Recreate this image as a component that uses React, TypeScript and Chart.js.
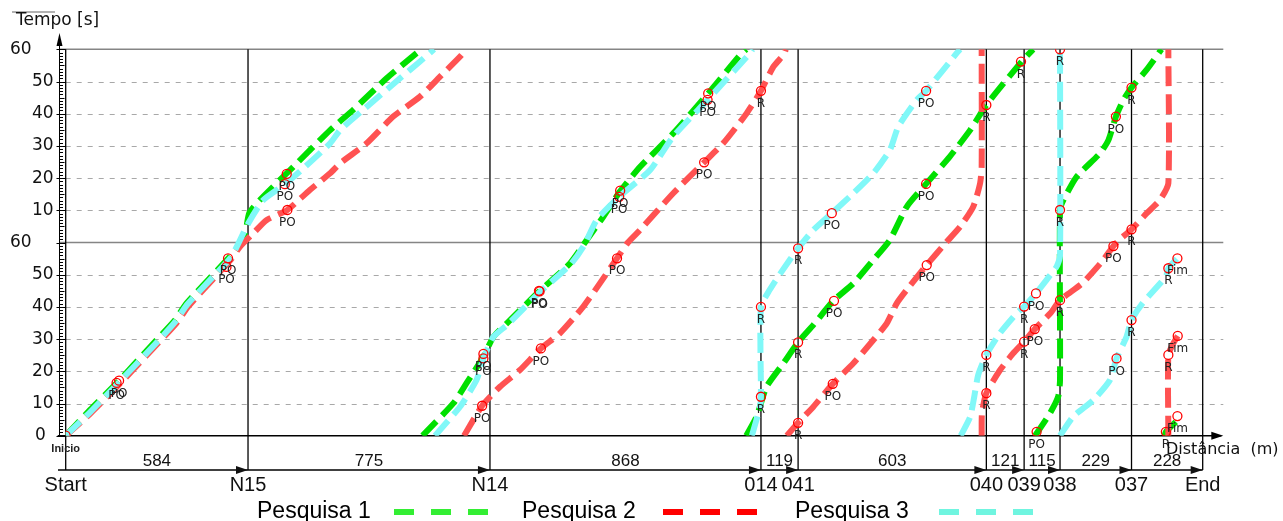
import React, { useEffect, useRef } from 'react';
import { Chart, registerables } from 'chart.js';

Chart.register(...registerables);

// ---------- data ----------
const stationNames = ['Start', 'N15', 'N14', '014', '041', '040', '039', '038', '037', 'End'];
const segmentLengths = [584, 775, 868, 119, 603, 121, 115, 229, 228];
const yTickValues = [0, 10, 20, 30, 40, 50, 60, 70, 80, 90, 100, 110, 120];
const yTickLabels = ['0', '10', '20', '30', '40', '50', '60', '10', '20', '30', '40', '50', '60'];
const seriesNames = ['Pesquisa 1', 'Pesquisa 2', 'Pesquisa 3'];

// [distance (m), time (s, two stacked minutes 0..120)] per wrapped segment
const pesquisa1Segments: number[][][] = [
  [[0, 0], [78, 8], [168, 16.8], [291, 29.7], [350, 35.9], [388, 41.2], [526, 55.6], [552, 58.5], [575, 62.9], [588, 69.2], [622, 73.2], [729, 83.5], [847, 94.9], [921, 101.2], [1028, 111], [1124, 118.8], [1141, 120]],
  [[1143, 0], [1242, 10.1], [1284, 16.3], [1338, 24.5], [1370, 30.7], [1413, 34.9], [1519, 45], [1615, 53.5], [1669, 60.8], [1722, 68], [1775, 75.8], [1840, 83.5], [1946, 93.9], [2058, 106.3], [2160, 118.2], [2180, 120]],
  [[2180, 0], [2213, 5.9], [2245, 15.2], [2299, 22.5], [2346, 29], [2395, 34.4], [2459, 41.9], [2523, 47.3], [2587, 54.6], [2640, 60.8], [2694, 71.1], [2756, 78.2], [2832, 86.7], [2897, 94.9], [2949, 102.7], [3062, 116.2], [3099, 120]],
  [[3105, 0], [3153, 7], [3179, 12.1], [3185, 17.3], [3185, 70], [3196, 73.2], [3238, 80.4], [3313, 87.7], [3340, 91.8], [3364, 99.1], [3388, 104.3], [3414, 108.1], [3462, 113.6], [3510, 120]],
  [[3520, 0], [3524, 1.2], [3556, 4.3]],
];
const pesquisa2Segments: number[][][] = [
  [[0, 0], [82, 7.2], [172, 16], [297, 28.9], [355, 35], [393, 40.2], [530, 54.8], [558, 58.7], [601, 62.9], [644, 67], [710, 70.1], [782, 76.3], [847, 81.5], [879, 84.6], [964, 90.8], [1049, 99.1], [1135, 105.3], [1199, 111.5], [1268, 118.2], [1279, 120]],
  [[1276, 0], [1334, 9.3], [1391, 15.2], [1455, 20.4], [1522, 27.1], [1583, 31.8], [1658, 40.1], [1711, 47.3], [1766, 55.1], [1801, 60], [1840, 63.9], [1946, 75.3], [2045, 84.9], [2106, 90.8], [2181, 100.1], [2227, 107.1], [2267, 114.6], [2299, 118.2], [2307, 120]],
  [[2310, 0], [2346, 4], [2395, 9], [2457, 16.1], [2523, 22.5], [2587, 29.7], [2630, 34.9], [2662, 41.1], [2694, 45.3], [2758, 53], [2820, 60], [2865, 64.9], [2907, 71.1], [2929, 78.4], [2934, 83.5], [2934, 120]],
  [[2934, 0], [2935, 7], [2949, 13.2], [2993, 20.4], [3035, 25.6], [3070, 29.2], [3104, 33.1], [3154, 38], [3185, 42.1], [3257, 47.4], [3318, 53.9], [3356, 58.9], [3375, 60.8], [3414, 64.1], [3463, 69.1], [3505, 73.2], [3532, 78.4], [3532, 120]],
  [[3532, 0], [3532, 25.1], [3548, 28.7], [3562, 31]],
];
const pesquisa3Segments: number[][][] = [
  [[0, 0], [80, 7.5], [170, 16.5], [295, 29.3], [352, 35.5], [390, 40.8], [528, 55.2], [548, 58.7], [585, 66], [633, 73.2], [702, 78.1], [761, 83], [847, 90.8], [879, 94.9], [953, 101.2], [1071, 111], [1135, 116.2], [1180, 120]],
  [[1183, 0], [1263, 9], [1316, 17.3], [1338, 24], [1370, 30.7], [1415, 34.5], [1521, 44.8], [1618, 53.3], [1660, 59], [1701, 67], [1773, 74.2], [1872, 82.5], [1946, 92.9], [2056, 104.3], [2192, 118.8], [2200, 120]],
  [[2198, 0], [2224, 9], [2227, 12.1], [2227, 40], [2255, 45.3], [2297, 51.5], [2346, 58.2], [2395, 63.9], [2454, 69.1], [2523, 75.3], [2587, 81.5], [2640, 88.7], [2667, 96], [2726, 104.3], [2756, 107.1], [2854, 118.8], [2865, 120]],
  [[2867, 0], [2897, 5.8], [2910, 12], [2923, 18.9], [2949, 25.1], [2993, 31.9], [3046, 38], [3070, 40.1], [3108, 44.2], [3142, 48.4], [3174, 52.5], [3185, 55.8], [3185, 120]],
  [[3185, 0], [3227, 5.9], [3292, 11.1], [3345, 17.3], [3366, 24], [3398, 30.7], [3414, 35.9], [3449, 41.1], [3524, 49.4], [3532, 52], [3561, 55.1]],
];

const markerPoints: [number, number, string][] = [
  [0, 0, 'Inicio'],
  [171, 17.1, 'PO'], [163, 16.4, 'PO'],
  [520, 55.1, 'PO'], [515, 52.4, 'PO'],
  [708, 81.3, 'PO'], [702, 78.1, 'PO'], [710, 70.1, 'PO'],
  [1338, 25.4, 'PO'], [1338, 24, 'PO'], [1334, 9.3, 'PO'],
  [1516, 45, 'PO'], [1518, 44.8, 'PO'], [1522, 27.1, 'PO'], [1766, 55.1, 'PO'],
  [1776, 76.1, 'PO'], [1773, 74.2, 'PO'],
  [2058, 106.3, 'PO'], [2056, 104.3, 'PO'], [2045, 84.9, 'PO'],
  [2227, 107.1, 'R'],
  [2454, 69.1, 'PO'], [2756, 107.1, 'PO'], [2756, 78.2, 'PO'],
  [2346, 58.2, 'R'], [2227, 40, 'R'], [2461, 41.9, 'PO'], [2346, 29, 'R'], [2457, 16.1, 'PO'], [2346, 4, 'R'], [2758, 53, 'PO'], [2227, 12.1, 'R'],
  [2949, 102.7, 'R'], [3060, 116.2, 'R'], [3185, 120, 'R'], [3185, 70.1, 'R'], [3364, 99.1, 'PO'], [3414, 108.1, 'R'], [3414, 64.1, 'R'], [3356, 58.9, 'PO'],
  [2949, 25.1, 'R'], [2949, 13.2, 'R'], [3070, 40.1, 'R'], [3108, 44.2, 'PO'], [3070, 29.2, 'R'], [3104, 33.1, 'PO'], [3185, 42.1, 'R'], [3110, 1.2, 'PO'],
  [3366, 24, 'PO'], [3414, 35.9, 'R'], [3532, 52, 'R'], [3561, 55.1, 'Fim'],
  [3532, 25.1, 'R'], [3562, 31, 'Fim'],
  [3524, 1.2, 'R'], [3561, 6.1, 'Fim'],
];

const X_MAX = 3708;
const lineColors = ['#00e000', '#ff5252', '#80f8f8'];
const legendColors = ['#33ee33', '#ff0000', '#70f5e0'];

function toData(segs: number[][][]) {
  const out: { x: number; y: number | null }[] = [];
  segs.forEach((s, i) => {
    if (i > 0) out.push({ x: s[0][0], y: null });
    s.forEach((p) => out.push({ x: p[0], y: p[1] }));
  });
  return out;
}

function stationPositions() {
  const pos = [0];
  segmentLengths.forEach((l) => pos.push(pos[pos.length - 1] + l));
  return pos;
}

const BAND_Y = 470;

const decorPlugin = {
  id: 'decor',
  beforeDatasetsDraw(chart: any) {
    const ctx = chart.ctx as CanvasRenderingContext2D;
    const xs = chart.scales.x;
    const ys = chart.scales.y;
    const { left, right, top } = chart.chartArea;
    ctx.save();
    // dashed grid
    ctx.strokeStyle = '#a8a8a8';
    ctx.lineWidth = 1;
    ctx.setLineDash([5, 6]);
    yTickValues.forEach((v) => {
      if (v % 60 === 0) return;
      const y = Math.round(ys.getPixelForValue(v)) + 0.5;
      ctx.beginPath();
      ctx.moveTo(left, y);
      ctx.lineTo(right, y);
      ctx.stroke();
    });
    ctx.setLineDash([]);
    // minute boundaries
    ctx.strokeStyle = '#858585';
    ctx.lineWidth = 1.5;
    [60, 120].forEach((v) => {
      const y = ys.getPixelForValue(v);
      ctx.beginPath();
      ctx.moveTo(left - 6, y);
      ctx.lineTo(right, y);
      ctx.stroke();
    });
    // station lines
    ctx.strokeStyle = '#000';
    ctx.lineWidth = 1.3;
    stationPositions().forEach((d) => {
      const x = xs.getPixelForValue(d);
      ctx.beginPath();
      ctx.moveTo(x, top);
      ctx.lineTo(x, BAND_Y);
      ctx.stroke();
    });
    // x axis
    const y0 = ys.getPixelForValue(0);
    ctx.lineWidth = 1.5;
    ctx.beginPath();
    ctx.moveTo(left - 8, y0);
    ctx.lineTo(right - 2, y0);
    ctx.stroke();
    ctx.fillStyle = '#000';
    ctx.beginPath();
    ctx.moveTo(right, y0);
    ctx.lineTo(right - 12, y0 - 4);
    ctx.lineTo(right - 12, y0 + 4);
    ctx.closePath();
    ctx.fill();
    ctx.restore();
  },
  afterDatasetsDraw(chart: any) {
    const ctx = chart.ctx as CanvasRenderingContext2D;
    const meta = chart.getDatasetMeta(0);
    ctx.save();
    ctx.fillStyle = '#222';
    ctx.textAlign = 'center';
    ctx.textBaseline = 'middle';
    meta.data.forEach((el: any, i: number) => {
      const label = markerPoints[i][2];
      if (label === 'Inicio') {
        ctx.font = 'bold 11px "Liberation Sans"';
        ctx.fillText(label, el.x, el.y + 13);
      } else {
        ctx.font = '12px "DejaVu Sans"';
        ctx.fillText(label, el.x, el.y + 13);
      }
    });
    ctx.restore();
  },
  afterDraw(chart: any) {
    const ctx = chart.ctx as CanvasRenderingContext2D;
    const xs = chart.scales.x;
    const ys = chart.scales.y;
    const { left } = chart.chartArea;
    ctx.save();
    // top-left stub line
    ctx.strokeStyle = '#999';
    ctx.lineWidth = 1.5;
    ctx.beginPath();
    ctx.moveTo(12, 12);
    ctx.lineTo(55, 12);
    ctx.stroke();
    // axis title
    ctx.fillStyle = '#111';
    ctx.font = '17px "DejaVu Sans"';
    ctx.textAlign = 'left';
    ctx.textBaseline = 'middle';
    ctx.fillText('Tempo [s]', 16, 21);
    // y tick labels
    yTickValues.forEach((v, i) => {
      const y = ys.getPixelForValue(v);
      let x = 32;
      if (v === 0) x = 35;
      else if (v % 60 === 0) x = 10;
      ctx.fillText(yTickLabels[i], x, y);
    });
    // ruler
    const rx = 59.5;
    ctx.strokeStyle = '#000';
    ctx.lineWidth = 1;
    ctx.beginPath();
    ctx.moveTo(rx, 44);
    ctx.lineTo(rx, ys.getPixelForValue(0));
    ctx.stroke();
    ctx.fillStyle = '#000';
    ctx.beginPath();
    ctx.moveTo(rx, 33);
    ctx.lineTo(rx - 3, 46);
    ctx.lineTo(rx + 3, 46);
    ctx.closePath();
    ctx.fill();
    for (let t = 0; t <= 120; t++) {
      const y = Math.round(ys.getPixelForValue(t)) + 0.5;
      ctx.beginPath();
      if (t % 10 === 0) {
        ctx.moveTo(rx - 3, y);
        ctx.lineTo(left, y);
      } else {
        ctx.moveTo(rx, y);
        ctx.lineTo(rx + (t % 5 === 0 ? 5 : 3.5), y);
      }
      ctx.stroke();
    }
    // Distancia label
    ctx.fillStyle = '#111';
    ctx.font = '16px "DejaVu Sans"';
    ctx.textAlign = 'left';
    ctx.fillText('Distância  (m)', 1166, 450);
    // band arrows
    const pos = stationPositions();
    const xPos = pos.map((d) => xs.getPixelForValue(d));
    ctx.strokeStyle = '#000';
    ctx.lineWidth = 1.3;
    ctx.beginPath();
    ctx.moveTo(58, BAND_Y);
    ctx.lineTo(xPos[xPos.length - 1], BAND_Y);
    ctx.stroke();
    xPos.slice(1).forEach((x) => {
      ctx.beginPath();
      ctx.moveTo(x, BAND_Y);
      ctx.lineTo(x - 12, BAND_Y - 4);
      ctx.lineTo(x - 12, BAND_Y + 4);
      ctx.closePath();
      ctx.fill();
    });
    // segment lengths
    ctx.font = '17px "Liberation Sans"';
    ctx.textAlign = 'center';
    segmentLengths.forEach((l, i) => {
      ctx.fillText(String(l), (xPos[i] + xPos[i + 1]) / 2, 461);
    });
    // station names
    ctx.font = '20px "Liberation Sans"';
    stationNames.forEach((n, i) => {
      ctx.fillText(n, xPos[i], 485);
    });
    // legend
    const textX = [257, 522, 795];
    const dashX = [394, 663, 939];
    seriesNames.forEach((n, i) => {
      ctx.fillStyle = '#000';
      ctx.font = '23px "Liberation Sans"';
      ctx.textAlign = 'left';
      ctx.fillText(n, textX[i], 512);
      ctx.strokeStyle = legendColors[i];
      ctx.lineWidth = 6;
      for (let k = 0; k < 3; k++) {
        ctx.beginPath();
        ctx.moveTo(dashX[i] + k * 37, 512);
        ctx.lineTo(dashX[i] + k * 37 + 20, 512);
        ctx.stroke();
      }
    });
    ctx.restore();
  },
};

export default function App() {
  const ref = useRef<HTMLCanvasElement | null>(null);
  useEffect(() => {
    if (!ref.current) return;
    const lineDs = (label: string, segs: number[][][], color: string) => ({
      label,
      data: toData(segs),
      borderColor: color,
      backgroundColor: color,
      borderWidth: 6,
      borderDash: [20, 8],
      borderCapStyle: 'butt' as const,
      pointRadius: 0,
      pointHoverRadius: 0,
      tension: 0.2,
      spanGaps: false,
      fill: false,
    });
    const chart = new Chart(ref.current, {
      type: 'line',
      data: {
        datasets: [
          {
            label: 'markers',
            data: markerPoints.map((m) => ({ x: m[0], y: m[1] })),
            showLine: false,
            pointRadius: 4.5,
            pointHoverRadius: 4.5,
            pointBorderColor: '#ff0000',
            pointBackgroundColor: 'rgba(255,255,255,0)',
            pointBorderWidth: 1.3,
          } as any,
          lineDs(seriesNames[2], pesquisa3Segments, lineColors[2]),
          lineDs(seriesNames[1], pesquisa2Segments, lineColors[1]),
          lineDs(seriesNames[0], pesquisa1Segments, lineColors[0]),
        ],
      },
      options: {
        responsive: false,
        maintainAspectRatio: false,
        animation: false,
        devicePixelRatio: 1,
        layout: { padding: { left: 65.7, right: 59.7, top: 49.3, bottom: 85.3 } },
        scales: {
          x: { type: 'linear', min: 0, max: X_MAX, display: false },
          y: { type: 'linear', min: 0, max: 120, display: false },
        },
        plugins: {
          legend: { display: false },
          tooltip: { enabled: false },
        },
        events: [],
      },
      plugins: [decorPlugin],
    });
    return () => chart.destroy();
  }, []);
  return (
    <div style={{ position: 'fixed', left: 0, top: 0, width: 1283, height: 521, background: '#fff' }}>
      <canvas ref={ref} width={1283} height={521} style={{ display: 'block' }} />
    </div>
  );
}
